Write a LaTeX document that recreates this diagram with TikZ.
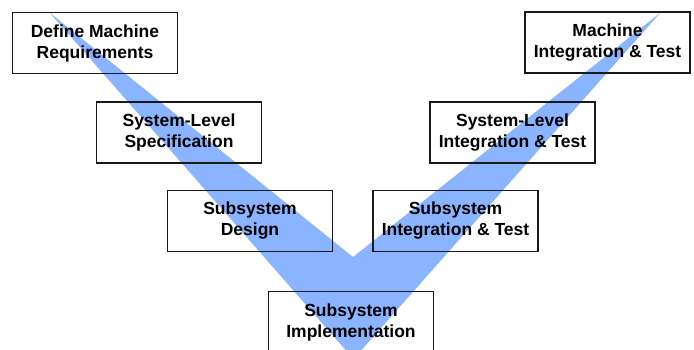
\documentclass[tikz,border=0pt]{standalone}
\usepackage{fontspec}
\setmainfont{Liberation Sans}
\definecolor{vblue}{RGB}{138,180,255}
\tikzset{
  phase/.style={draw=black!90,line width=1.5pt,minimum width=165pt,minimum height=61pt,
    align=center,font=\bfseries\fontsize{17.5}{21}\selectfont,inner sep=2pt}
}
\begin{document}
\begin{tikzpicture}[x=1pt,y=-1pt]
    \useasboundingbox (0,0) rectangle (694,349);

    \coordinate (ltip) at (50,13);
    \coordinate (rtip) at (660,13);
    \coordinate (notch) at (353,257);
    \coordinate (vbot) at (353.5,359);
    \fill[vblue] (ltip) -- (notch) -- (rtip) -- (vbot) -- cycle;

    \node[phase] (req)  at (95,43)    {Define Machine\\Requirements};
    \node[phase] (spec) at (179,132.5) {System-Level\\Specification};
    \node[phase] (des)  at (250,221)  {Subsystem\\Design};
    \node[phase] (impl) at (351,322)  {Subsystem\\Implementation};
    \node[phase] (sint) at (455.5,221) {Subsystem\\Integration \& Test};
    \node[phase] (lint) at (512.5,132.5) {System-Level\\Integration \& Test};
    \node[phase] (mint) at (607.5,42.5) {Machine\\Integration \& Test};
  \end{tikzpicture}
\end{document}
